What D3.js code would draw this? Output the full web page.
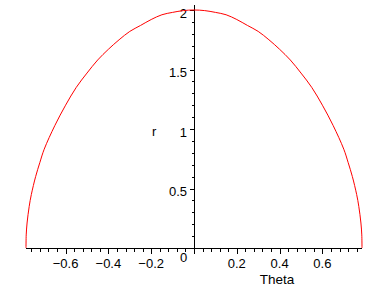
<!DOCTYPE html>
<html>
<head>
<meta charset="utf-8">
<script src="https://cdn.jsdelivr.net/npm/d3@7"></script>
<style>
  body { margin: 0; background: #fff; }
  text { font-family: "Liberation Sans", Arial, sans-serif; font-size: 13px; fill: #000; }
</style>
</head>
<body>
<script>
// curva: theta (x) y r (y)
var theta = [-0.785, -0.784, -0.78, -0.77, -0.76, -0.74, -0.72, -0.70, -0.65, -0.60, -0.55, -0.50,
  -0.45, -0.40, -0.35, -0.30, -0.25, -0.20, -0.15, -0.10, -0.05, 0,
  0.05, 0.10, 0.15, 0.20, 0.25, 0.30, 0.35, 0.40, 0.45, 0.50, 0.55, 0.60, 0.65,
  0.70, 0.72, 0.74, 0.76, 0.77, 0.78, 0.784, 0.785];
var r = [0, 0.11, 0.21, 0.35, 0.45, 0.60, 0.72, 0.83, 1.03, 1.20, 1.35, 1.47,
  1.58, 1.67, 1.75, 1.82, 1.87, 1.92, 1.96, 1.98, 1.995, 2,
  1.995, 1.98, 1.96, 1.92, 1.87, 1.82, 1.75, 1.67, 1.58, 1.47, 1.35, 1.20, 1.03,
  0.83, 0.72, 0.60, 0.45, 0.35, 0.21, 0.11, 0];

var xTickLabels = [-0.6, -0.4, -0.2, 0.2, 0.4, 0.6];
var yTickLabels = [0.5, 1, 1.5, 2];

var svg = d3.select("body").append("svg")
    .attr("width", 388)
    .attr("height", 288);

var xScale = d3.scaleLinear()
    .domain([-0.785, 0.785])
    .range([26, 362]);

var yScale = d3.scaleLinear()
    .domain([0, 2])
    .range([248, 10]);

var x0 = Math.round(xScale(0)) + 0.5;
var y0 = Math.round(yScale(0)) + 0.5;

// ejes
var ejes = svg.append("g").attr("stroke", "#000").attr("stroke-width", 1).attr("shape-rendering", "crispEdges");

ejes.append("line").attr("x1", 26).attr("x2", 362).attr("y1", y0).attr("y2", y0);
ejes.append("line").attr("x1", x0).attr("x2", x0).attr("y1", 5).attr("y2", y0 + 5);

// marcas del eje x, cada 0.04, las grandes cada 0.2
var xTicks = d3.range(-19, 20).map(d => d * 0.04).filter(d => d !== 0);
ejes.selectAll(".xt").data(xTicks).enter().append("line")
    .attr("x1", d => Math.round(xScale(d)) + 0.5)
    .attr("x2", d => Math.round(xScale(d)) + 0.5)
    .attr("y1", y0)
    .attr("y2", d => y0 + (Math.abs(Math.round(d / 0.04)) % 5 === 0 ? 5 : 3));

// marcas del eje y, cada 0.1
var yTicks = d3.range(1, 21).map(d => d / 10);
ejes.selectAll(".yt").data(yTicks).enter().append("line")
    .attr("y1", d => Math.round(yScale(d)) + 0.5)
    .attr("y2", d => Math.round(yScale(d)) + 0.5)
    .attr("x1", x0)
    .attr("x2", d => x0 - (Math.round(d * 10) % 5 === 0 ? 5 : 3));

// etiquetas
svg.selectAll(".xl").data(xTickLabels).enter().append("text")
    .attr("x", d => xScale(d))
    .attr("y", 268)
    .attr("text-anchor", "middle")
    .text(d => d3.format(".1f")(d).replace("-", "\u2212"));

svg.selectAll(".yl").data(yTickLabels).enter().append("text")
    .attr("x", 187)
    .attr("y", d => yScale(d) + 7.5)
    .attr("text-anchor", "end")
    .text(d => d);

svg.append("text").attr("x", 180).attr("y", 262).text("0");
svg.append("text").attr("x", 277).attr("y", 284).attr("text-anchor", "middle").style("font-size", "13.5px").text("Theta");
svg.append("text").attr("x", 152).attr("y", 136).text("r");

// curva
var puntos = theta.map((t, i) => ({ t: t, r: r[i] }));
var linea = d3.line()
    .x(d => xScale(d.t))
    .y(d => yScale(d.r))
    .curve(d3.curveCatmullRom.alpha(0.5));

svg.append("path")
    .datum(puntos)
    .attr("fill", "none")
    .attr("stroke", "#ff0000")
    .attr("stroke-width", 1)
    .attr("d", linea);
</script>
</body>
</html>
